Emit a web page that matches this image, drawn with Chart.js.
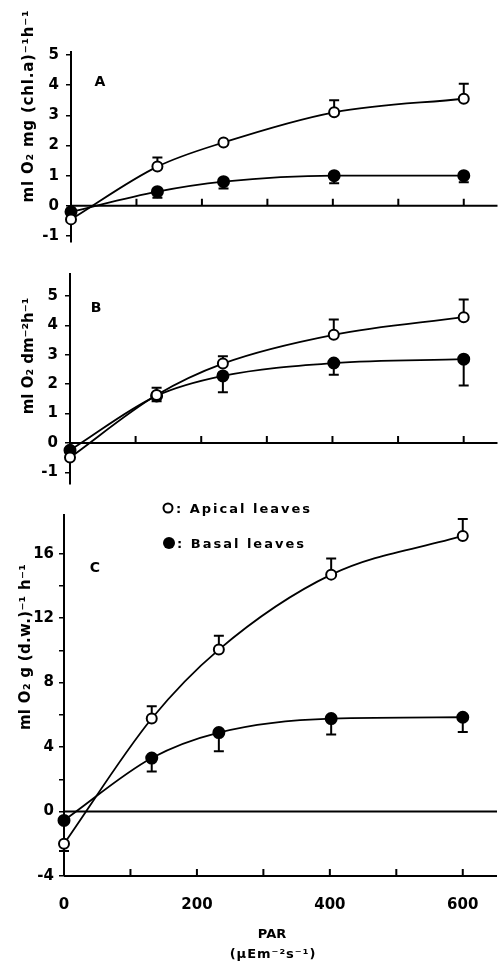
<!DOCTYPE html>
<html>
<head>
<meta charset="utf-8">
<script src="https://cdn.jsdelivr.net/npm/chart.js@4.4.0/dist/chart.umd.min.js"></script>
<style>
  html, body { margin: 0; padding: 0; background: #fff; }
  #wrap { position: relative; width: 504px; height: 962px; overflow: hidden; font-family: 'DejaVu Sans', sans-serif; font-weight: bold; color: #000; }
  canvas { position: absolute; left: 0; }
  .lbl { position: absolute; white-space: nowrap; transform: translate(-50%, -50%); }
  .ytitle { position: absolute; white-space: nowrap; font-size: 15px; transform: translate(-50%, -50%) rotate(-90deg); }
  .leg { position: absolute; white-space: nowrap; font-size: 13px; letter-spacing: 2px; transform: translateY(-50%); }
  .dot { position: absolute; border-radius: 50%; box-sizing: border-box; transform: translate(-50%, -50%); }
</style>
</head>
<body>
<div id="wrap">
  <canvas id="chartA" width="504" height="258" style="top:0"></canvas>
  <canvas id="chartB" width="504" height="242" style="top:258px"></canvas>
  <canvas id="chartC" width="504" height="462" style="top:500px"></canvas>

  <div class="ytitle" style="left:28px;top:106px;letter-spacing:0.8px">ml O₂ mg (chl.a)⁻¹h⁻¹</div>
  <div class="ytitle" style="left:28px;top:356px">ml O₂ dm⁻²h⁻¹</div>
  <div class="ytitle" style="left:25px;top:647px;letter-spacing:0.3px">ml O₂ g (d.w.)⁻¹ h⁻¹</div>

  <div class="lbl" style="left:100px;top:81px;font-size:14px">A</div>
  <div class="lbl" style="left:96px;top:307px;font-size:14px">B</div>
  <div class="lbl" style="left:95px;top:567px;font-size:14px">C</div>

  <div class="dot" style="left:168px;top:508px;width:11px;height:11px;border:2px solid #000;background:#fff"></div>
  <div class="leg" style="left:176px;top:508px">: Apical leaves</div>
  <div class="dot" style="left:169px;top:543px;width:12px;height:12px;background:#000"></div>
  <div class="leg" style="left:177px;top:543px">: Basal leaves</div>

  <div class="lbl" style="left:272px;top:933px;font-size:13px">PAR</div>
  <div class="lbl" style="left:273px;top:953px;font-size:13px;letter-spacing:1px">(µEm⁻²s⁻¹)</div>
</div>
<script>
// PAR levels (µE m-2 s-1)
const parX = [0, 132, 233, 402, 600];
const xTicks = [0, 100, 200, 300, 400, 500, 600];
const xLabels = [0, 200, 400, 600];

// A: per chl.a
const apicalA = [-0.45, 1.3, 2.1, 3.1, 3.55];
const apicalAUp = [null, 1.6, null, 3.5, 4.05];
const basalA = [-0.2, 0.47, 0.8, 1.0, 1.0];
const basalALow = [null, 0.27, 0.57, 0.75, 0.78];
const yTicksA = [-1, 0, 1, 2, 3, 4, 5];

// B: per leaf area
const apicalB = [-0.5, 1.63, 2.7, 3.68, 4.28];
const apicalBUp = [null, 1.88, 2.95, 4.2, 4.88];
const basalB = [-0.25, 1.6, 2.28, 2.72, 2.85];
const basalBLow = [null, 1.42, 1.72, 2.32, 1.95];
const yTicksB = [-1, 0, 1, 2, 3, 4, 5];

// C: per dry weight
const apicalC = [-2.0, 5.77, 10.05, 14.7, 17.1];
const apicalCUp = [null, 6.54, 10.9, 15.7, 18.15];
const apicalCLow = [-2.45, null, null, null, null];
const basalC = [-0.55, 3.32, 4.9, 5.77, 5.85];
const basalCLow = [null, 2.49, 3.74, 4.78, 4.94];
const yTicksC = [-4, -2, 0, 2, 4, 6, 8, 10, 12, 14, 16];
const yLabelsC = [-4, 0, 4, 8, 12, 16];

const tickFont = { family: 'DejaVu Sans', size: 15, weight: 'bold' };

// x axis drawn by hand so its ticks point up into the plot
const baseAxis = {
  id: 'baseAxis',
  beforeDatasetsDraw(chart, args, opts) {
    const { ctx, chartArea, scales: { x, y } } = chart;
    const ay = y.getPixelForValue(opts.at);
    ctx.save();
    ctx.strokeStyle = '#000';
    ctx.lineWidth = 2;
    ctx.beginPath();
    ctx.moveTo(chartArea.left, ay);
    ctx.lineTo(chartArea.right + 1, ay);
    xTicks.slice(1).forEach(v => {
      const px = x.getPixelForValue(v);
      ctx.moveTo(px, ay);
      ctx.lineTo(px, ay - 7);
    });
    if (opts.zeroLine) {
      const zy = y.getPixelForValue(0);
      ctx.moveTo(chartArea.left, zy);
      ctx.lineTo(chartArea.right + 1, zy);
    }
    ctx.stroke();
    ctx.restore();
  }
};

const errorBars = {
  id: 'errorBars',
  beforeDatasetsDraw(chart) {
    const { ctx, scales: { x, y } } = chart;
    ctx.save();
    ctx.strokeStyle = '#000';
    ctx.lineWidth = 2;
    chart.data.datasets.forEach(ds => {
      [ds.errUp, ds.errLow].forEach(arr => {
        (arr || []).forEach((v, i) => {
          if (v == null) return;
          const px = x.getPixelForValue(ds.data[i].x);
          const py0 = y.getPixelForValue(ds.data[i].y);
          const py1 = y.getPixelForValue(v);
          ctx.beginPath();
          ctx.moveTo(px, py0);
          ctx.lineTo(px, py1);
          ctx.moveTo(px - 5, py1);
          ctx.lineTo(px + 5, py1);
          ctx.stroke();
        });
      });
    });
    ctx.restore();
  }
};

const toPts = (vals) => parX.map((x, i) => ({ x, y: vals[i] }));

const series = (vals, up, low, filled) => ({
  data: toPts(vals),
  errUp: up,
  errLow: low,
  borderColor: '#000',
  borderWidth: 1.8,
  pointBackgroundColor: filled ? '#000' : '#fff',
  pointBorderColor: '#000',
  pointBorderWidth: 2,
  pointRadius: filled ? 5.5 : 5,
  cubicInterpolationMode: 'monotone',
  clip: false,
});

const makePanel = (id, cfg) => new Chart(document.getElementById(id), {
  type: 'line',
  data: {
    datasets: [
      series(cfg.apical, cfg.apicalUp, cfg.apicalLow, false),
      series(cfg.basal, null, cfg.basalLow, true),
    ]
  },
  options: {
    responsive: false,
    animation: false,
    events: [],
    layout: { padding: cfg.pad },
    plugins: {
      legend: { display: false },
      tooltip: { enabled: false },
      baseAxis: { at: cfg.axisAt, zeroLine: cfg.zeroLine },
    },
    scales: {
      x: {
        type: 'linear', min: 0, max: 650,
        display: cfg.showX,
        afterFit: s => { s.height = cfg.xHeight || 0; },
        afterBuildTicks: s => { s.ticks = xTicks.map(v => ({ value: v })); },
        grid: { display: false },
        border: { display: false },
        ticks: {
          autoSkip: false, maxRotation: 0, padding: 12, color: '#000', font: tickFont,
          callback: v => xLabels.includes(v) ? String(v) : '',
        },
      },
      y: {
        type: 'linear', min: cfg.yMin, max: cfg.yMax,
        afterFit: s => { s.width = cfg.left; },
        afterBuildTicks: s => { s.ticks = cfg.yTicks.map(v => ({ value: v })); },
        grid: { drawOnChartArea: false, tickLength: 5, color: '#000', lineWidth: 1.5 },
        border: { color: '#000', width: 2 },
        ticks: {
          padding: cfg.tickPad, color: '#000', font: tickFont,
          callback: v => cfg.yLabels.includes(v) ? String(v) : '',
        },
      },
    },
  },
  plugins: [baseAxis, errorBars],
});

makePanel('chartA', {
  apical: apicalA, apicalUp: apicalAUp, basal: basalA, basalLow: basalALow,
  yMin: -1.2, yMax: 5.1, yTicks: yTicksA, yLabels: yTicksA,
  left: 71, pad: { top: 52, bottom: 4.6, right: 1 },
  axisAt: 0, zeroLine: false, showX: false, tickPad: 7,
});

makePanel('chartB', {
  apical: apicalB, apicalUp: apicalBUp, basal: basalB, basalLow: basalBLow,
  yMin: -1.4, yMax: 5.75, yTicks: yTicksB, yLabels: yTicksB,
  left: 70, pad: { top: 12, bottom: 4, right: 3 },
  axisAt: 0, zeroLine: false, showX: false, tickPad: 7,
});

makePanel('chartC', {
  apical: apicalC, apicalUp: apicalCUp, apicalLow: apicalCLow, basal: basalC, basalLow: basalCLow,
  yMin: -4, yMax: 18.4, yTicks: yTicksC, yLabels: yLabelsC,
  left: 64, pad: { top: 15, bottom: 0, right: 8 },
  axisAt: -4, zeroLine: true, showX: true, xHeight: 86, tickPad: 5,
});
</script>
</body>
</html>
